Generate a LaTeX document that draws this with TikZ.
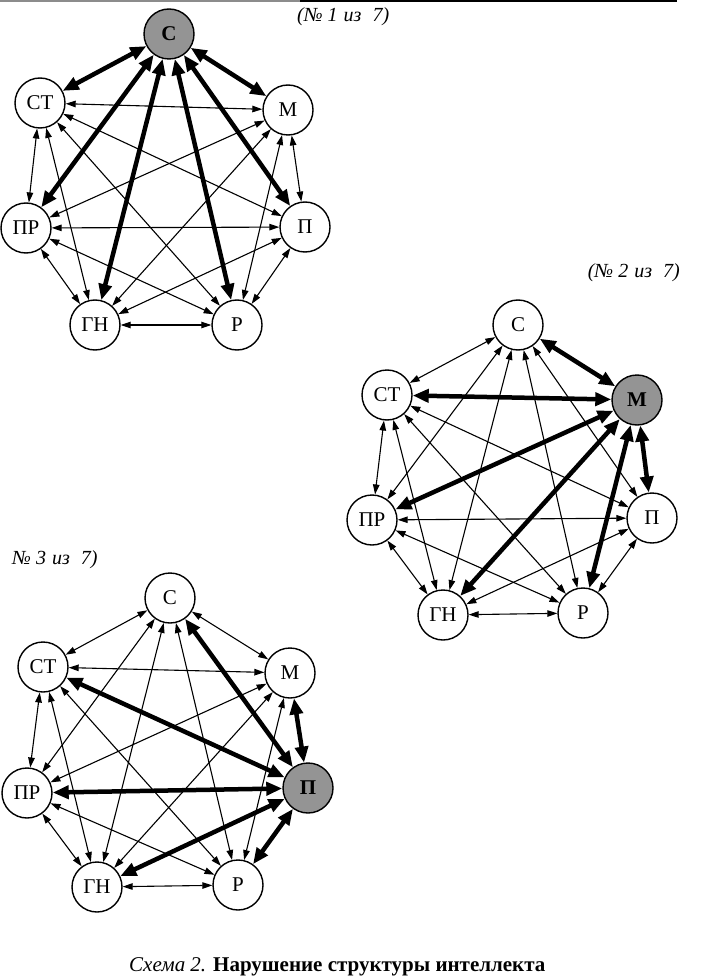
\documentclass[tikz,border=0pt]{standalone}
\usepackage{fontspec}
\setmainfont{Liberation Serif}
\usetikzlibrary{arrows.meta}
\newcommand\gp[1]{\hspace*{#1pt}}
\begin{document}
\begin{tikzpicture}[x=1pt,y=-1pt,
  vert/.style={circle,draw,line width=1.4pt,minimum size=50pt,inner sep=0pt,fill=white,font=\fontsize{21}{21}\selectfont},
  hub/.style={vert,fill=black!42,font=\fontsize{21}{21}\selectfont\bfseries},
  thinarr/.style={line width=1.1pt,{Triangle[length=10pt,width=6.5pt]}-{Triangle[length=10pt,width=6.5pt]}},
  thickarr/.style={line width=4.5pt,{Triangle[length=16pt,width=13pt]}-{Triangle[length=16pt,width=13pt]}},
  tag/.style={font=\fontsize{20}{20}\selectfont\itshape,inner sep=0pt},
  rulegray/.style={line width=2pt,black!45},
  ruleblack/.style={line width=2pt,black}]
\useasboundingbox[fill=white] (0,0) rectangle (710,976);
% top rule
\coordinate (r0) at (0,1);
\coordinate (r1) at (300,1);
\coordinate (r2) at (677,1);
\draw[rulegray] (r0) -- (r1);
\draw[ruleblack] (r1) -- (r2);
% diagram 1
\node[hub]  (aS)  at (169,34)  {С};
\node[vert] (aST) at (40,103)  {СТ};
\node[vert] (aM)  at (288,110) {М};
\node[vert] (aPR) at (26,228)  {ПР};
\node[vert] (aP)  at (305,227) {П};
\node[vert] (aG)  at (95,325)  {ГН};
\node[vert] (aR)  at (237,325) {Р};
\foreach \u/\v in {M/P,M/R,M/G,M/PR,M/ST,P/R,P/G,P/PR,P/ST,R/G,R/PR,R/ST,G/PR,G/ST,PR/ST}
  \draw[thinarr] (a\u) -- (a\v);
\foreach \v in {M,P,R,G,PR,ST}
  \draw[thickarr] (aS) -- (a\v);
% diagram 2
\node[vert] (bS)  at (518,325) {С};
\node[vert] (bST) at (387,395) {СТ};
\node[hub]  (bM)  at (637,400) {М};
\node[vert] (bPR) at (372,520) {ПР};
\node[vert] (bP)  at (652,518) {П};
\node[vert] (bG)  at (443,615) {ГН};
\node[vert] (bR)  at (583,613) {Р};
\foreach \u/\v in {S/P,S/R,S/G,S/PR,S/ST,P/R,P/G,P/PR,P/ST,R/G,R/PR,R/ST,G/PR,G/ST,PR/ST}
  \draw[thinarr] (b\u) -- (b\v);
\foreach \v in {S,P,R,G,PR,ST}
  \draw[thickarr] (bM) -- (b\v);
% diagram 3
\node[vert] (cS)  at (170,598) {С};
\node[vert] (cST) at (43,667)  {СТ};
\node[vert] (cM)  at (290,673) {М};
\node[vert] (cPR) at (27,793)  {ПР};
\node[hub]  (cP)  at (308,788) {П};
\node[vert] (cG)  at (97,887)  {ГН};
\node[vert] (cR)  at (238,885) {Р};
\foreach \u/\v in {S/M,S/R,S/G,S/PR,S/ST,M/R,M/G,M/PR,M/ST,R/G,R/PR,R/ST,G/PR,G/ST,PR/ST}
  \draw[thinarr] (c\u) -- (c\v);
\foreach \v in {S,M,R,G,PR,ST}
  \draw[thickarr] (cP) -- (c\v);
% labels
\node[tag,anchor=west] (t1) at (297,17)  {(№\gp{5}1\gp{6}из\gp{11}7)};
\node[tag,anchor=east] (t2) at (680,273) {(№\gp{5}2\gp{6}из\gp{11}7)};
\node[tag,anchor=west] (t3) at (12,560)  {№\gp{5}3\gp{6}из\gp{11}7)};
\node[anchor=base west,inner sep=0pt,font=\fontsize{21}{21}\selectfont] (cap) at (129,971)
  {\textit{Схема 2.} \textbf{Нарушение структуры интеллекта}};
\end{tikzpicture}
\end{document}
